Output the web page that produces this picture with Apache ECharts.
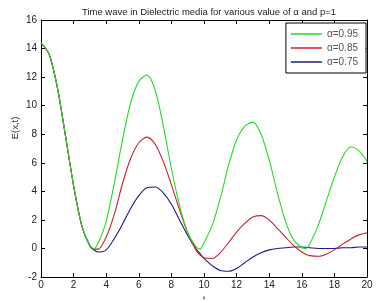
<!DOCTYPE html>
<html>
<head>
<meta charset="utf-8">
<script src="https://cdn.jsdelivr.net/npm/echarts@6/dist/echarts.min.js"></script>
<style>
  html, body { margin: 0; padding: 0; background: #fff; }
  #chart { width: 391px; height: 300px; }
</style>
</head>
<body>
<div id="chart"></div>
<script>
// t values (x axis)
const tValues = [
  0, 0.5, 1, 1.5, 2, 2.5, 3, 3.25, 3.5, 4, 4.5,
  5, 5.5, 6, 6.5, 7, 7.5, 8, 8.5, 9, 9.5, 9.75,
  10, 10.5, 11, 11.5, 12, 12.5, 13, 13.5, 14, 14.5,
  15, 15.5, 16, 16.25, 16.5, 17, 17.5, 18, 18.5, 19, 19.5, 20
];
// alpha = 0.95
const alpha095 = [
  14.4, 13.6, 11.3, 7.9, 4.4, 1.6, 0.2, 0.0, 0.35, 1.9, 4.6,
  7.6, 10.2, 11.7, 12.15, 11.1, 8.6, 5.6, 3.0, 1.1, 0.15, -0.05,
  0.4, 1.6, 3.5, 5.8, 7.6, 8.55, 8.85, 8.0, 6.2, 3.9,
  1.9, 0.6, 0.05, 0.0, 0.35, 1.6, 3.3, 5.0, 6.4, 7.1, 6.85, 6.1
];
// alpha = 0.85
const alpha085 = [
  14.4, 13.6, 11.3, 7.9, 4.4, 1.6, 0.2, -0.05, -0.05, 0.8, 2.4,
  4.55, 6.3, 7.4, 7.8, 7.3, 6.1, 4.45, 2.7, 1.1, -0.1, -0.45,
  -0.65, -0.7, -0.3, 0.4, 1.15, 1.75, 2.2, 2.3, 2.0, 1.4,
  0.8, 0.2, -0.25, -0.4, -0.5, -0.55, -0.4, -0.1, 0.3, 0.65, 0.95, 1.1
];
// alpha = 0.75
const alpha075 = [
  14.4, 13.6, 11.3, 7.9, 4.4, 1.6, 0.15, -0.1, -0.25, -0.1, 0.7,
  1.7, 2.8, 3.7, 4.25, 4.3, 3.9, 3.1, 2.0, 0.9, 0.0, -0.35,
  -0.7, -1.2, -1.55, -1.6, -1.4, -1.0, -0.6, -0.3, -0.1, 0.0,
  0.05, 0.1, 0.1, 0.08, 0.05, 0.0, 0.0, 0.0, 0.05, 0.05, 0.1, 0.1
];
const seriesNames = ["\u03b1=0.95", "\u03b1=0.85", "\u03b1=0.75"];
const seriesColors = ["#22dd22", "#c8202a", "#1a1a8c"];
const xTicks = { min: 0, max: 20, interval: 2 };
const yTicks = { min: -2, max: 16, interval: 2 };

function pairs(ys) {
  return tValues.map((t, i) => [t, ys[i]]);
}

const font = "Liberation Sans, Arial, sans-serif";
const axisBase = {
  type: "value",
  axisLine: { show: true, onZero: false, lineStyle: { color: "#000", width: 1 } },
  axisTick: { show: true, inside: true, length: 4, lineStyle: { color: "#000" } },
  splitLine: { show: false }
};

const chart = echarts.init(document.getElementById("chart"));
chart.setOption({
  animation: false,
  backgroundColor: "#fff",
  title: {
    text: "Time wave in Dielectric media for various value of \u03b1 and p=1",
    left: 204,
    textAlign: "center",
    top: 2,
    textStyle: { fontSize: 9.5, fontWeight: "normal", color: "#222", fontFamily: font }
  },
  legend: {
    orient: "vertical",
    right: 25,
    top: 23,
    padding: [6, 8, 6, 5],
    itemGap: 4,
    itemWidth: 31,
    itemHeight: 1.5,
    icon: "rect",
    align: "left",
    backgroundColor: "#fff",
    borderColor: "#000",
    borderWidth: 1,
    borderRadius: 0,
    textStyle: { fontSize: 10, color: "#555", fontFamily: font, padding: [0, 0, 0, 0] },
    data: seriesNames
  },
  grid: { left: 41, right: 24, top: 20, bottom: 23, outerBoundsMode: "none", containLabel: false },
  xAxis: [
    Object.assign({}, axisBase, xTicks, {
      position: "bottom",
      name: "t",
      nameLocation: "middle",
      nameGap: 17,
      nameTextStyle: { fontSize: 8, color: "#333", fontFamily: font },
      axisLabel: { fontSize: 10, color: "#222", fontFamily: font, margin: 3 }
    }),
    Object.assign({}, axisBase, xTicks, { position: "top", axisLabel: { show: false } })
  ],
  yAxis: [
    Object.assign({}, axisBase, yTicks, {
      position: "left",
      axisLabel: { fontSize: 10, color: "#222", fontFamily: font, margin: 4 }
    }),
    Object.assign({}, axisBase, yTicks, { position: "right", axisLabel: { show: false } })
  ],
  graphic: [
    {
      type: "text",
      x: 15,
      y: 128,
      rotation: Math.PI / 2,
      style: {
        text: "E(x,t)",
        fontSize: 9.5,
        fill: "#333",
        fontFamily: font,
        align: "center",
        verticalAlign: "middle"
      }
    }
  ],
  series: [alpha095, alpha085, alpha075].map((ys, i) => ({
    name: seriesNames[i],
    type: "line",
    data: pairs(ys),
    smooth: 0.3,
    symbol: "none",
    lineStyle: { width: 1.1, color: seriesColors[i] },
    itemStyle: { color: seriesColors[i] },
    z: 3 - i
  }))
});
</script>
</body>
</html>
